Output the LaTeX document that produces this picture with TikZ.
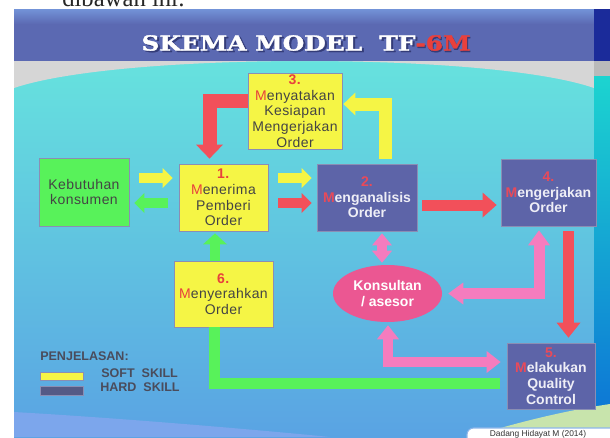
\documentclass[tikz,border=0pt]{standalone}
\usepackage{graphicx}
\usepackage{fontspec}
\setmainfont{Liberation Sans}
\newfontfamily\softfont[LetterSpace=3]{Liberation Sans}
\newfontfamily\titlefont[FakeBold=1.6]{DejaVu Serif}
\newfontfamily\pagefont{Liberation Serif}
\usetikzlibrary{arrows.meta,shapes.geometric,calc}

\definecolor{softyellow}{HTML}{F5F545}
\definecolor{needgreen}{HTML}{58F25A}
\definecolor{hardslate}{HTML}{5D64A8}
\definecolor{legendslate}{HTML}{545A86}
\definecolor{flowred}{HTML}{F2505A}
\definecolor{flowpink}{HTML}{F57CBE}
\definecolor{ellpink}{HTML}{EB5792}
\definecolor{markred}{HTML}{E8403C}
\definecolor{numred}{HTML}{E84A5A}
\definecolor{softtext}{HTML}{444444}
\definecolor{hardtext}{HTML}{EEEEF6}
\definecolor{boxedge}{HTML}{8A8EB4}
\definecolor{headband}{HTML}{5B69B2}
\definecolor{headtop}{HTML}{7393D8}
\definecolor{greyband}{HTML}{D6D6D6}
\definecolor{skytop}{HTML}{66E2DE}
\definecolor{skymid}{HTML}{5CC6EB}
\definecolor{skylow}{HTML}{5AA3E3}
\definecolor{edgenavy}{HTML}{1B2B9A}
\definecolor{edgegrey}{HTML}{BABABA}
\definecolor{edgecyan}{HTML}{1CD4D0}
\definecolor{edgeblue}{HTML}{0C70D6}
\definecolor{paleleaf}{HTML}{C8E4AC}
\definecolor{lowlilac}{HTML}{7CA6EC}
\definecolor{legendtext}{HTML}{4A4C5C}
\definecolor{footedge}{HTML}{8EB6EA}
\definecolor{titleshade}{HTML}{343C78}

\newcommand\stepmark[1]{\textcolor{markred}{#1}}
\newcommand\hardmark[1]{\textcolor{numred}{#1}}

\tikzset{
  boxtext/.style={font={\softfont\fontsize{10.5pt}{11.7pt}\selectfont}},
  softbox/.style={draw=boxedge, line width=0.6pt, fill=softyellow, inner sep=0pt,
    align=center, text=softtext, boxtext},
  needbox/.style={softbox, fill=needgreen},
  hardbox/.style={draw=boxedge, line width=0.6pt, fill=hardslate, inner sep=0pt,
    align=center, text=hardtext,
    font={\bfseries\fontsize{10.5pt}{11.7pt}\selectfont}},
  advisor/.style={ellipse, fill=ellpink, inner sep=0pt, align=center, text=white,
    font={\bfseries\fontsize{10.5pt}{11.7pt}\selectfont}},
  onehead/.style n args={3}{line width=#1,
    -{Triangle[width=#2,length=#3,line width=0pt]}},
  twohead/.style n args={3}{line width=#1,
    {Triangle[width=#2,length=#3,line width=0pt]}-{Triangle[width=#2,length=#3,line width=0pt]}},
  legendfont/.style={font={\bfseries\fontsize{9.4pt}{10pt}\selectfont}, text=legendtext, inner sep=0pt},
}

\begin{document}
\begin{tikzpicture}[x=0.75pt,y=-0.75pt]
\useasboundingbox (0,0) rectangle (610,437);

% page and slide background
\fill[white] (0,0) rectangle (610,437);
\node[anchor=base west, inner sep=0pt, text=black!85,
  font={\pagefont\fontsize{18.5pt}{20pt}\selectfont}] (lead) at (62,6) {dibawah ini:};

\shade[top color=skytop, middle color=skymid, bottom color=skylow] (14,61) rectangle (594,437);
\fill[greyband] (14,61) -- (594,61) -- (594,88) .. controls (490,52) and (120,52) .. (14,88) -- cycle;
\fill[lowlilac] (14,412) .. controls (120,418) and (260,430) .. (330,437) -- (14,437) -- cycle;

% header band
\shade[top color=headtop, bottom color=headband] (14,9) rectangle (594,24);
\fill[headband] (14,24) rectangle (594,61);

% right edge strip
\fill[edgenavy] (594,9) rectangle (610,61);
\fill[edgegrey] (594,61) rectangle (610,76);
\shade[top color=edgecyan, bottom color=edgeblue] (594,76) rectangle (610,437);

% lower right swoosh
\fill[paleleaf] (470,437) .. controls (525,420) and (570,410) .. (610,404) -- (610,437) -- cycle;

% title
\node[text=titleshade, inner sep=0pt, font={\titlefont\bfseries\fontsize{15.5pt}{16pt}\selectfont}]
  (titleshadow) at (307.5,44.5) {\scalebox{1.2}[1]{SKEMA MODEL\ \ TF-6M}};
\node[text=white, inner sep=0pt, font={\titlefont\bfseries\fontsize{15.5pt}{16pt}\selectfont}]
  (title) at (306,43) {\scalebox{1.2}[1]{SKEMA MODEL\ \ TF\textcolor{markred}{-6M}}};

% process boxes
\node[needbox, minimum width=67.5pt, minimum height=51pt] (kb) at (84,192) {Kebutuhan\\konsumen};
\node[softbox, minimum width=66.75pt, minimum height=50.25pt] (n1) at (223.5,197.5)
  {\stepmark{\textbf{1.}}\\\stepmark{M}enerima\\Pemberi\\Order};
\node[softbox, minimum width=70.5pt, minimum height=57pt] (n3) at (295,111)
  {\stepmark{\textbf{3.}}\\\stepmark{M}enyatakan\\Kesiapan\\Mengerjakan\\Order};
\node[hardbox, minimum width=75pt, minimum height=50.25pt] (n2) at (367,197.5)
  {\hardmark{2.}\\\hardmark{M}enganalisis\\Order};
\node[hardbox, minimum width=71.25pt, minimum height=50.25pt] (n4) at (548.5,192.5)
  {\hardmark{4.}\\\hardmark{M}engerjakan\\Order};
\node[softbox, minimum width=74.25pt, minimum height=49.5pt] (n6) at (223.5,294)
  {\stepmark{\textbf{6.}}\\\stepmark{M}enyerahkan\\Order};
\node[hardbox, minimum width=66pt, minimum height=49.5pt] (n5) at (551,376)
  {\hardmark{5.}\\\hardmark{M}elakukan\\Quality\\Control};
\node[advisor, minimum width=81.75pt, minimum height=42.75pt] (ks) at (387.5,293.5)
  {Konsultan\\/ asesor};

% block arrows
\draw[softyellow, onehead={7.5pt}{15pt}{7.5pt}] ($(kb.east)+(10,-14)$) -- ($(n1.west)+(-6,-19.5)$);
\draw[needgreen, onehead={7.5pt}{15pt}{7.5pt}] ($(n1.west)+(-11,5.5)$) -- ($(kb.east)+(5,11)$);
\draw[softyellow, onehead={7.5pt}{15pt}{7.5pt}] ($(n1.east)+(10,-19.5)$) -- ($(n2.west)+(-5,-19.5)$);
\draw[flowred, onehead={7.5pt}{15pt}{7.5pt}] ($(n1.east)+(10,5.5)$) -- ($(n2.west)+(-5,5.5)$);
\draw[flowred, onehead={8.25pt}{18.75pt}{10.5pt}] ($(n2.east)+(5,7.5)$) -- ($(n4.west)+(-4,12.5)$);
\draw[flowred, onehead={10.5pt}{20.25pt}{10.5pt}] ($(n3.west)+(0,-10)$) -| ($(n1.north)+(-14,-5)$);
\draw[softyellow, onehead={9.75pt}{17.25pt}{9pt}] ($(n2.north)+(18.5,-5)$) |- ($(n3.east)+(1,-7)$);
\draw[flowpink, twohead={7.5pt}{15pt}{9pt}] ($(n2.south)+(15,2)$) -- ($(ks.north)+(-5.5,-2)$);
\draw[flowpink, twohead={8.25pt}{16.5pt}{11.25pt}] ($(n4.south)+(-9.5,4)$) |- ($(ks.east)+(6,0)$);
\draw[flowred, onehead={8.25pt}{18pt}{11.25pt}] ($(n4.south)+(20,5)$) -- ($(n5.north)+(17.5,-5)$);
\draw[flowpink, twohead={7.5pt}{16.5pt}{10.5pt}] ($(ks.south)+(0.5,3)$) |- ($(n5.west)+(-6,-14)$);
\draw[needgreen, line width=8.25pt] ($(n5.west)+(-7,7.5)$) -| ($(n6.south)+(-9,0)$);
\draw[needgreen, onehead={7.5pt}{18pt}{8.25pt}] ($(n6.north)+(-8.5,0)$) -- ($(n1.south)+(-8.5,2)$);

% legend
\node[legendfont, anchor=west] (legend) at (40,356) {PENJELASAN:};
\node[draw=boxedge, line width=0.5pt, fill=softyellow, anchor=north west, inner sep=0pt,
  minimum width=32.25pt, minimum height=6pt] (softkey) at (40,372) {};
\node[draw=boxedge, line width=0.5pt, fill=legendslate, anchor=north west, inner sep=0pt,
  minimum width=32.25pt, minimum height=6.5pt] (hardkey) at (40,386) {};
\node[legendfont, anchor=west] (softlabel) at (101,373) {SOFT\ \ SKILL};
\node[legendfont, anchor=west] (hardlabel) at (100,387) {HARD\ \ SKILL};

% credit tab
\filldraw[fill=white, draw=footedge, line width=0.8pt, rounded corners=5pt]
  (467,450) -- (467,428) -- (625,428) -- (625,450);
\node[inner sep=0pt, text=black!80, font={\fontsize{6.3pt}{7pt}\selectfont}] (credit) at (538,434.5)
  {Dadang Hidayat M (2014)};
\end{tikzpicture}
\end{document}
